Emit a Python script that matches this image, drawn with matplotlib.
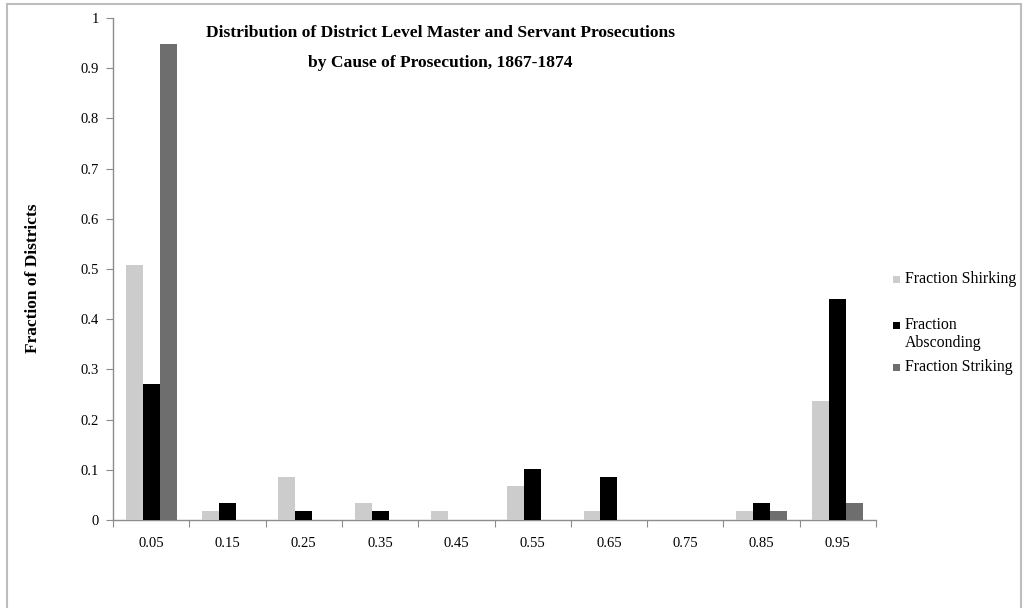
import matplotlib
matplotlib.use("Agg")
import matplotlib.pyplot as plt
from matplotlib.patches import Rectangle
import numpy as np

categories = ["0.05", "0.15", "0.25", "0.35", "0.45", "0.55", "0.65", "0.75", "0.85", "0.95"]
shirking = [0.508, 0.017, 0.085, 0.034, 0.017, 0.068, 0.017, 0.0, 0.017, 0.237]
absconding = [0.271, 0.034, 0.017, 0.017, 0.0, 0.102, 0.085, 0.0, 0.034, 0.441]
striking = [0.949, 0.0, 0.0, 0.0, 0.0, 0.0, 0.0, 0.0, 0.017, 0.034]
series_names = ["Fraction Shirking", "Fraction\nAbsconding", "Fraction Striking"]
colors = ["#cccccc", "#000000", "#6e6e6e"]
yticks = [0, 0.1, 0.2, 0.3, 0.4, 0.5, 0.6, 0.7, 0.8, 0.9, 1]
ytick_labels = ["0", "0.1", "0.2", "0.3", "0.4", "0.5", "0.6", "0.7", "0.8", "0.9", "1"]
title_lines = ["Distribution of District Level Master and Servant Prosecutions",
               "by Cause of Prosecution, 1867-1874"]

plt.rcParams['font.family'] = ['Liberation Serif', 'DejaVu Serif']

W, H = 1028, 608
fig = plt.figure(figsize=(W / 100, H / 100), dpi=100)
fig.patch.set_facecolor("white")

# chart-area border
fig.patches.append(Rectangle((7 / W, -0.05), (1021 - 7) / W, 1.05 - 4 / H,
                             transform=fig.transFigure, fill=False,
                             edgecolor="#bdbdbd", linewidth=1.5))

ax = fig.add_axes([113 / W, 1 - 520 / H, (876 - 113) / W, (520 - 18) / H])
x = np.arange(len(categories))
bw = 1 / 4.5
data = [shirking, absconding, striking]
for i, (vals, c) in enumerate(zip(data, colors)):
    ax.bar(x + (i - 1) * bw, vals, width=bw, color=c, edgecolor="none", zorder=3)

ax.set_xlim(-0.5, len(categories) - 0.5)
ax.set_ylim(0, 1)
for s in ["top", "right"]:
    ax.spines[s].set_visible(False)
for s in ["left", "bottom"]:
    ax.spines[s].set_color("#8c8c8c")
    ax.spines[s].set_linewidth(1.0)

ax.set_xticks(np.arange(-0.5, len(categories), 1.0))
ax.set_xticklabels([])
ax.tick_params(axis="x", which="major", length=5, color="#8c8c8c", direction="out")
ax.set_xticks(x, minor=True)
ax.set_xticklabels(categories, minor=True, fontsize=10.5)
ax.tick_params(axis="x", which="minor", length=0, pad=12)

ax.set_yticks(yticks)
ax.set_yticklabels(ytick_labels, fontsize=10.5)
ax.tick_params(axis="y", length=5, color="#8c8c8c", direction="out", pad=5)

fig.text(33 / W, 1 - 278 / H, "Fraction of Districts", rotation=90,
         ha="center", va="center", fontsize=12.5, fontweight="bold")

for line, yy in zip(title_lines, [33, 63]):
    fig.text(440 / W, 1 - yy / H, line, ha="center", va="center",
             fontsize=12.6, fontweight="bold")

# legend
leg_y = [279, 325, 367]
text_y = [279, 334, 367]
for name, c, yy, ty in zip(series_names, colors, leg_y, text_y):
    fig.patches.append(Rectangle((893 / W, 1 - (yy + 3.5) / H), 7 / W, 7 / H,
                                 transform=fig.transFigure, facecolor=c, edgecolor="none"))
    fig.text(905 / W, 1 - ty / H, name, ha="left", va="center", fontsize=11.4,
             linespacing=1.17)

fig.savefig("out.png", dpi=100, facecolor="white")
